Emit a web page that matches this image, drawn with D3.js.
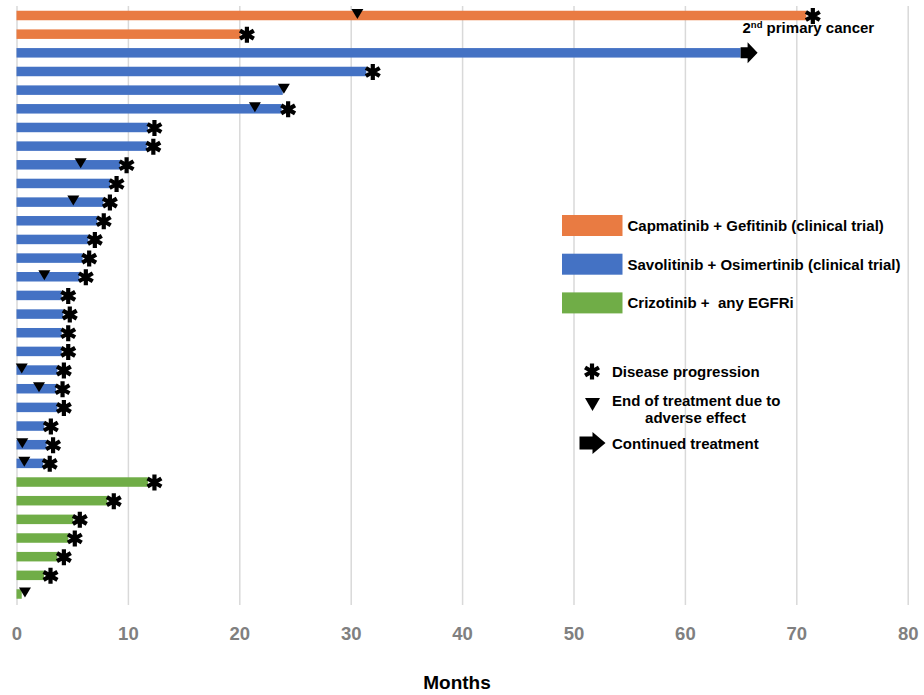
<!DOCTYPE html>
<html>
<head>
<meta charset="utf-8">
<script src="https://cdn.jsdelivr.net/npm/d3@7"></script>
<style>
  html, body { margin: 0; padding: 0; background: #fff; }
  svg { display: block; }
  text { font-family: "Liberation Sans", Arial, sans-serif; white-space: pre; }
</style>
</head>
<body>
<svg id="chart" width="924" height="695"></svg>
<script>
// ---------------- data ----------------
const patients = d3.range(1, 33);
const regimens = ["C","C",
  "S","S","S","S","S","S","S","S","S","S","S","S","S","S","S","S","S","S","S","S","S","S","S",
  "Z","Z","Z","Z","Z","Z","Z"];
const durations = [70.9, 20.1, 65.0, 31.4, 23.9, 23.8, 11.8, 11.7, 9.3, 8.4, 7.8, 7.25, 6.45, 5.94, 5.64, 4.06,
  4.2, 4.06, 4.06, 3.67, 3.55, 3.67, 2.5, 2.7, 2.4,
  11.8, 8.15, 5.1, 4.65, 3.67, 2.47, 0.47];
// 1 = disease progression (asterisk), 2 = continued treatment (arrow), 0 = none
const outcome = [1,1,2,1,0,1,1,1,1,1,1,1,1,1,1,1,1,1,1,1,1,1,1,1,1,1,1,1,1,1,1,0];
// month of end of treatment due to adverse effect (null = none)
const adverse = [30.6, null, null, null, 24.0, 21.4, null, null, 5.76, null, 5.1, null, null, null, 2.5, null,
  null, null, null, 0.47, 2.02, null, null, 0.52, 0.7, null, null, null, null, null, null, 0.76];
const regimenKeys = ["C","S","Z"];
const regimenLabels = ["Capmatinib + Gefitinib (clinical trial)", "Savolitinib + Osimertinib (clinical trial)", "Crizotinib +  any EGFRi"];
const regimenColors = ["#E97B42", "#4472C4", "#70AD47"];
const xTicks = [0,10,20,30,40,50,60,70,80];

// ---------------- chart ----------------
const svg = d3.select("#chart");
const x = d3.scaleLinear().domain([0, 80]).range([16.5, 907.7]);
const y = d3.scalePoint().domain(patients).range([15.5, 594]);
const color = d3.scaleOrdinal().domain(regimenKeys).range(regimenColors);
const barH = 9.5;
const gridTop = 6, gridBottom = 605;

// gridlines + ticks
const axis = d3.axisBottom(x).tickValues(xTicks).tickSize(-(gridBottom - gridTop)).tickPadding(22);
const gAxis = svg.append("g").attr("transform", `translate(0,${gridBottom})`).call(axis);
gAxis.select(".domain").remove();
gAxis.selectAll(".tick line").attr("stroke", "#d9d9d9").attr("stroke-width", 1.5);
gAxis.selectAll(".tick text").attr("fill", "#808080").attr("font-size", 18.5).attr("font-weight", "bold")
  .attr("font-family", "'Liberation Sans', Arial, sans-serif");

const rows = patients.map((p, i) => ({p, reg: regimens[i], d: durations[i], o: outcome[i], a: adverse[i]}));

// bars
svg.append("g").selectAll("rect").data(rows).join("rect")
  .attr("x", x(0)).attr("y", d => y(d.p) - barH / 2)
  .attr("width", d => x(d.d) - x(0)).attr("height", barH)
  .attr("fill", d => color(d.reg));

// asterisk path
function asteriskPath(r) {
  const p = d3.path();
  for (let k = 0; k < 3; k++) {
    const ang = Math.PI / 2 + k * Math.PI / 3;
    p.moveTo(r * Math.cos(ang), r * Math.sin(ang));
    p.lineTo(-r * Math.cos(ang), -r * Math.sin(ang));
  }
  return p.toString();
}
const triPath = (w, h) => `M${-w/2},${-h/2}L${w/2},${-h/2}L0,${h/2}Z`;
function arrowPath(shaftW, shaftH, headW, headH) {
  return `M0,${-shaftH/2}L${shaftW},${-shaftH/2}L${shaftW},${-headH/2}L${shaftW+headW},0L${shaftW},${headH/2}L${shaftW},${shaftH/2}L0,${shaftH/2}Z`;
}

// adverse effect triangles
svg.append("g").selectAll("path").data(rows.filter(d => d.a !== null)).join("path")
  .attr("d", triPath(12, 10))
  .attr("transform", d => `translate(${x(d.a)},${y(d.p) - 1.5})`)
  .attr("fill", "#000");

// progression asterisks
svg.append("g").selectAll("path").data(rows.filter(d => d.o === 1)).join("path")
  .attr("d", asteriskPath(8))
  .attr("transform", d => `translate(${x(d.d) + 6.5},${y(d.p) + 0.5})`)
  .attr("stroke", "#000").attr("stroke-width", 4.2).attr("fill", "none");

// continued treatment arrows
svg.append("g").selectAll("path").data(rows.filter(d => d.o === 2)).join("path")
  .attr("d", arrowPath(7, 11, 10, 21))
  .attr("transform", d => `translate(${x(d.d)},${y(d.p)})`)
  .attr("fill", "#000");

// annotation
const ann = svg.append("text").attr("x", 742.5).attr("y", 33).attr("font-size", 15).attr("font-weight", "bold").attr("fill", "#000");
ann.append("tspan").text("2");
ann.append("tspan").attr("dy", -5).attr("font-size", 9.5).text("nd");
ann.append("tspan").attr("dy", 5).text(" primary cancer");

// regimen legend
const leg = svg.append("g");
regimenKeys.forEach((k, i) => {
  const yy = 215 + i * 38.7;
  leg.append("rect").attr("x", 562).attr("y", yy).attr("width", 60.5).attr("height", 21).attr("fill", color(k));
  leg.append("text").attr("x", 627.5).attr("y", yy + 16).attr("font-size", 15).attr("font-weight", "bold").text(regimenLabels[i]);
});

// symbol legend
const sl = svg.append("g");
sl.append("path").attr("d", asteriskPath(8)).attr("transform", "translate(592,371.5)")
  .attr("stroke", "#000").attr("stroke-width", 4.2).attr("fill", "none");
sl.append("text").attr("x", 612).attr("y", 376.5).attr("font-size", 15).attr("font-weight", "bold").text("Disease progression");
sl.append("path").attr("d", triPath(15, 13)).attr("transform", "translate(592.5,404.5)").attr("fill", "#000");
sl.append("text").attr("x", 612).attr("y", 406).attr("font-size", 15).attr("font-weight", "bold").text("End of treatment due to");
sl.append("text").attr("x", 695.5).attr("y", 423).attr("text-anchor", "middle").attr("font-size", 15).attr("font-weight", "bold").text("adverse effect");
sl.append("path").attr("d", arrowPath(13, 13, 13, 22)).attr("transform", "translate(579.5,443)").attr("fill", "#000");
sl.append("text").attr("x", 612).attr("y", 448.5).attr("font-size", 15).attr("font-weight", "bold").text("Continued treatment");

// axis title
svg.append("text").attr("x", 457).attr("y", 689).attr("text-anchor", "middle")
  .attr("font-size", 19).attr("font-weight", "bold").attr("fill", "#000").text("Months");
</script>
</body>
</html>
